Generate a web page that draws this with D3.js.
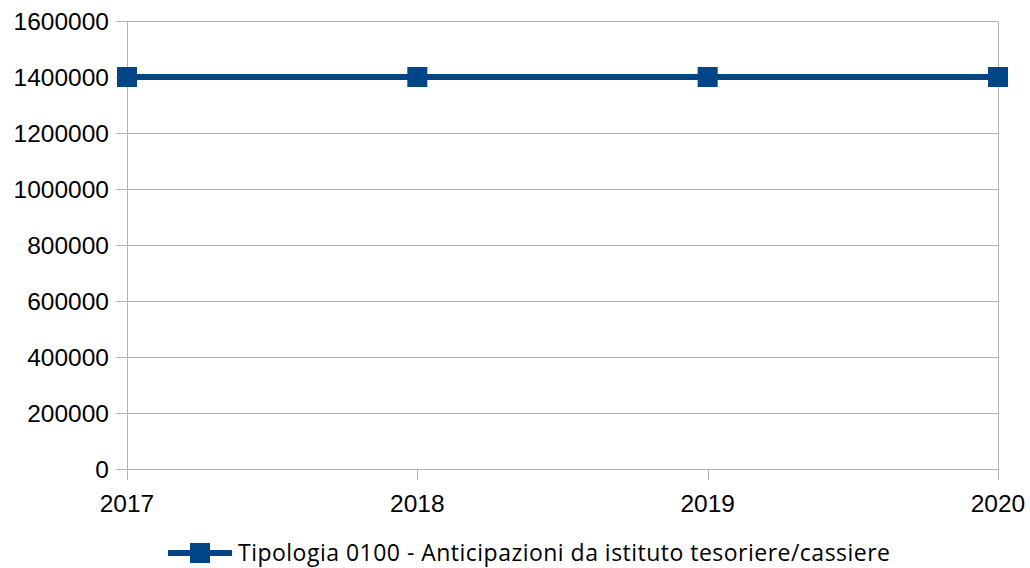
<!DOCTYPE html>
<html lang="it">
<head>
<meta charset="UTF-8">
<title>Tipologia 0100</title>
<script src="https://d3js.org/d3.v7.min.js"></script>
<style>
  body { margin: 0; background: #fff; }
  .axis text { font-family: 'Liberation Sans', Arial, sans-serif; font-size: 24.5px; fill: #000; }
  .legend text { font-family: 'Open Sans', sans-serif; font-size: 23px; fill: #000; }
</style>
</head>
<body>
<svg id="chart" width="1030" height="568"></svg>
<script>
// chart data
const years = ["2017", "2018", "2019", "2020"];
const values = [1400000, 1400000, 1400000, 1400000];
const yTicks = [0, 200000, 400000, 600000, 800000, 1000000, 1200000, 1400000, 1600000];
const seriesName = "Tipologia 0100 - Anticipazioni da istituto tesoriere/cassiere";

const color = "#004586";
const svg = d3.select("#chart");
const plot = { left: 127, right: 998, top: 21, bottom: 469 };

const x = d3.scalePoint().domain(years).range([plot.left, plot.right]);
const y = d3.scaleLinear().domain([0, 1600000]).range([plot.bottom, plot.top]);

// horizontal gridlines
svg.append("g")
  .selectAll("line")
  .data(yTicks)
  .join("line")
  .attr("x1", plot.left - 11).attr("x2", plot.right)
  .attr("y1", d => Math.round(y(d)) + 0.5).attr("y2", d => Math.round(y(d)) + 0.5)
  .attr("stroke", "#b3b3b3").attr("stroke-width", 1);

// vertical lines at categories
svg.append("g")
  .selectAll("line")
  .data(years)
  .join("line")
  .attr("x1", d => Math.round(x(d)) + 0.5).attr("x2", d => Math.round(x(d)) + 0.5)
  .attr("y1", d => (d === years[0] || d === years[years.length - 1]) ? plot.top : plot.bottom)
  .attr("y2", plot.bottom + 11)
  .attr("stroke", "#b3b3b3").attr("stroke-width", 1);

// y labels
svg.append("g").attr("class", "axis")
  .selectAll("text")
  .data(yTicks)
  .join("text")
  .attr("x", plot.left - 18)
  .attr("y", d => y(d))
  .attr("dy", "0.35em")
  .attr("text-anchor", "end")
  .text(d => d);

// x labels
svg.append("g").attr("class", "axis")
  .selectAll("text")
  .data(years)
  .join("text")
  .attr("x", d => x(d))
  .attr("y", 503)
  .attr("dy", "0.35em")
  .attr("text-anchor", "middle")
  .text(d => d);

// series line
const data = years.map((yr, i) => ({ yr, v: values[i] }));
svg.append("path")
  .datum(data)
  .attr("fill", "none")
  .attr("stroke", color)
  .attr("stroke-width", 6)
  .attr("d", d3.line().x(d => x(d.yr)).y(d => y(d.v)));

// markers
svg.append("g")
  .selectAll("rect")
  .data(data)
  .join("rect")
  .attr("x", d => x(d.yr) - 10)
  .attr("y", d => y(d.v) - 10)
  .attr("width", 20).attr("height", 20)
  .attr("fill", color);

// legend
const lg = svg.append("g").attr("class", "legend");
lg.append("line")
  .attr("x1", 168).attr("x2", 232)
  .attr("y1", 553).attr("y2", 553)
  .attr("stroke", color).attr("stroke-width", 6);
lg.append("rect")
  .attr("x", 190).attr("y", 543).attr("width", 20).attr("height", 20)
  .attr("fill", color);
lg.append("text")
  .attr("x", 238).attr("y", 553).attr("dy", "0.35em")
  .attr("textLength", 652)
  .attr("lengthAdjust", "spacing")
  .text(seriesName);
</script>
</body>
</html>
